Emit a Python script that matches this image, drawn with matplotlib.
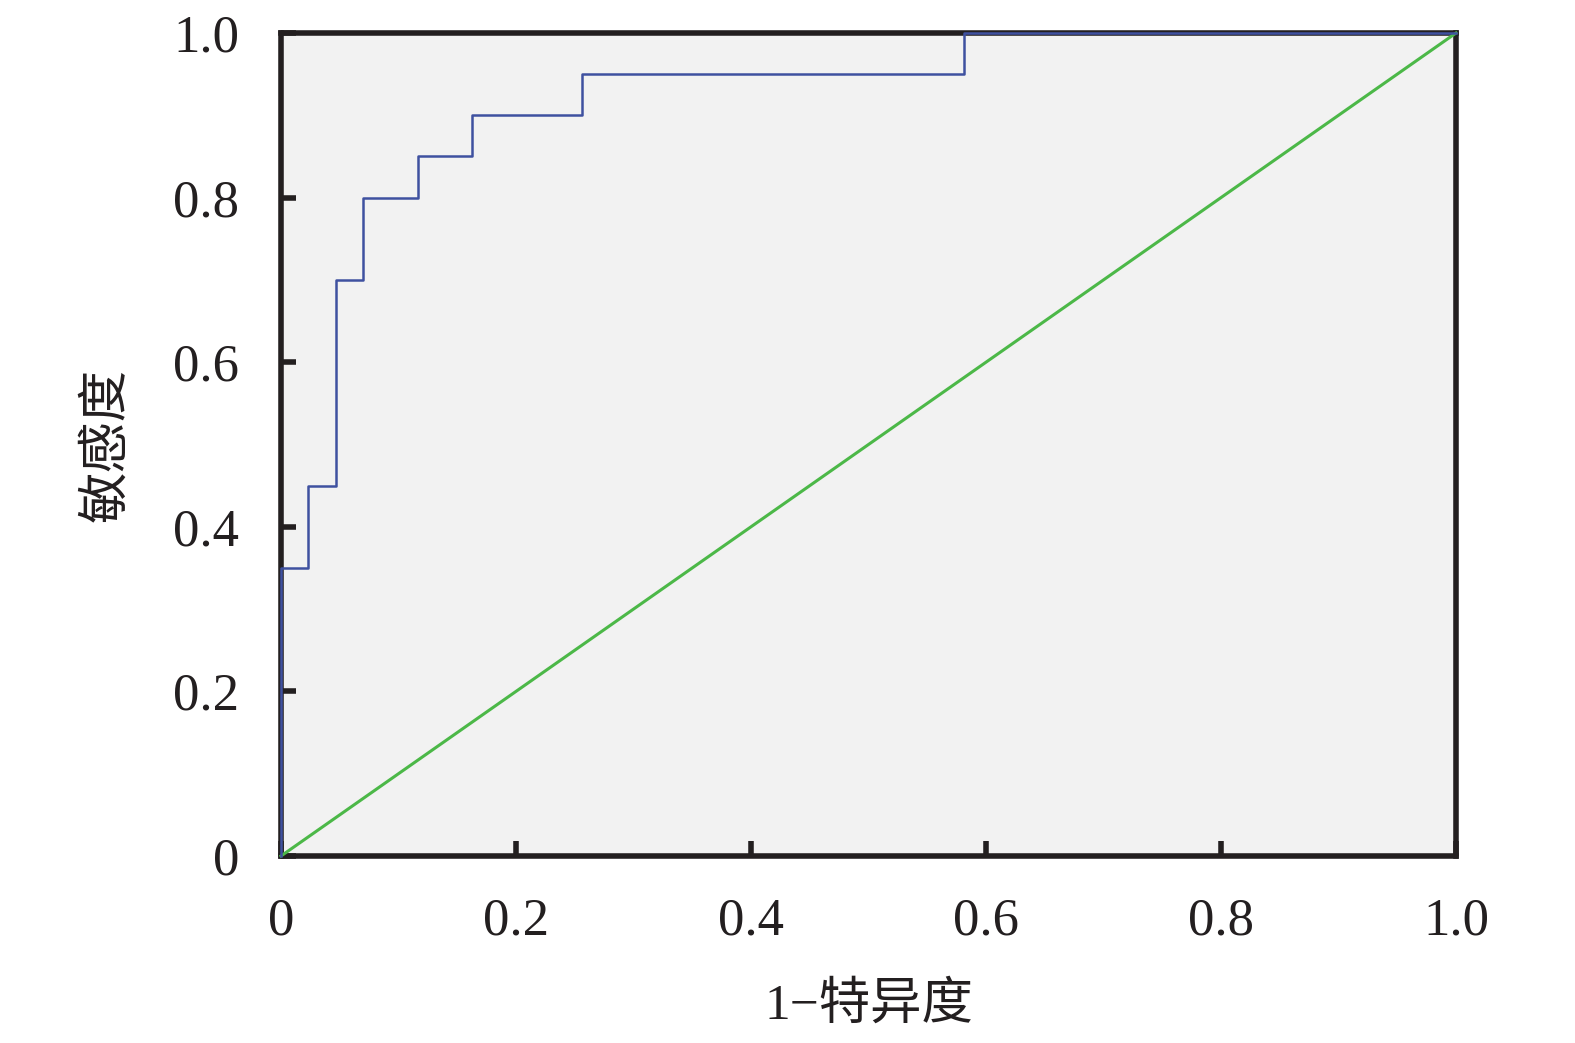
import numpy as np
import matplotlib
matplotlib.use('Agg')
from matplotlib import pyplot as plt

plt.rcParams['font.family'] = ['Liberation Serif', 'Noto Sans CJK SC']

# ROC curve step points (43 negatives, 20 positives)
fpr = [0, 0, 1/43, 1/43, 2/43, 2/43, 3/43, 3/43, 5/43, 5/43, 7/43, 7/43,
       11/43, 11/43, 25/43, 25/43, 1.0]
tpr = [0, 0.35, 0.35, 0.45, 0.45, 0.70, 0.70, 0.80, 0.80, 0.85, 0.85, 0.90,
       0.90, 0.95, 0.95, 1.0, 1.0]
ref_line = [0, 1]
ticks = [0, 0.2, 0.4, 0.6, 0.8, 1.0]
tick_labels = ['0', '0.2', '0.4', '0.6', '0.8', '1.0']

fig = plt.figure(figsize=(15.75, 10.43), dpi=100)
ax = fig.add_axes([281/1575, 187/1043, 1175/1575, 823/1043])
ax.set_facecolor('#f2f2f2')

ax.plot(ref_line, ref_line, color='#4cb848', lw=2.2, zorder=5, clip_on=False)
ax.plot(fpr, tpr, color='#3f51a0', lw=1.8, zorder=6, clip_on=False)

ax.set_xlim(0, 1)
ax.set_ylim(0, 1)
ax.set_xticks(ticks)
ax.set_yticks(ticks)
ax.set_xticklabels(tick_labels)
ax.set_yticklabels(tick_labels)

for s in ax.spines.values():
    s.set_linewidth(4)
    s.set_color('#231f20')
    s.set_zorder(4)

ax.tick_params(direction='in', length=11, width=4, color='#231f20',
               labelsize=38, labelcolor='#231f20')
ax.tick_params(axis='x', pad=30)
ax.tick_params(axis='y', pad=30)

ax.set_xlabel('1\u2212特异度', fontsize=37, color='#231f20', labelpad=26)
ax.set_ylabel('敏感度', fontsize=37, color='#231f20', labelpad=30)

fig.savefig('out.png', dpi=100)
